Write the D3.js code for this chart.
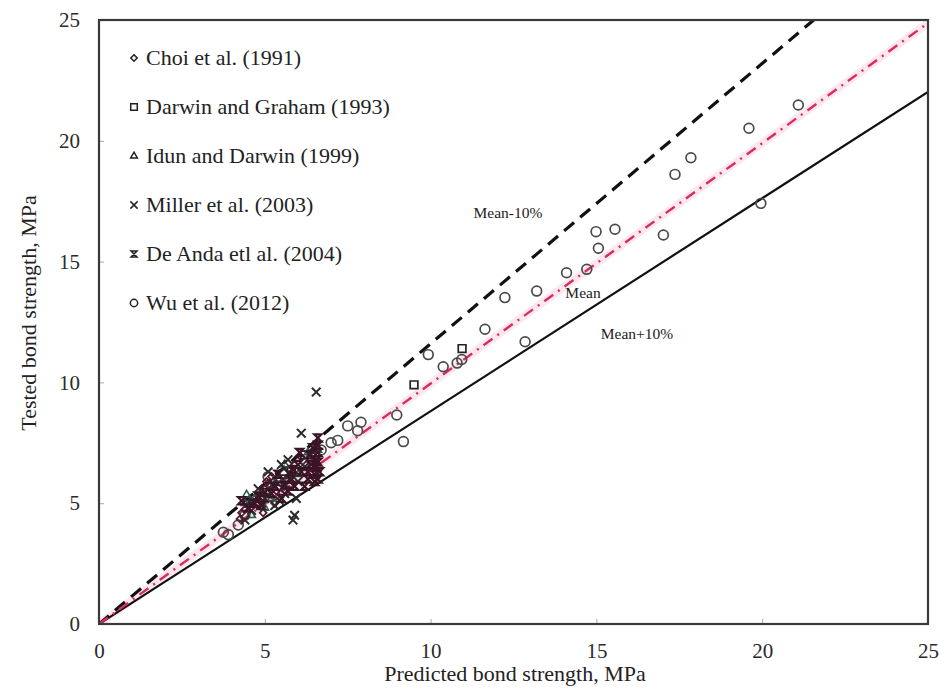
<!DOCTYPE html>
<html><head><meta charset="utf-8">
<script src="https://cdn.jsdelivr.net/npm/d3@7"></script>
<style>body{margin:0;background:#fff}svg{display:block}</style>
</head><body>
<svg id="c" width="941" height="692"></svg>
<script>
// ---- data ----
const xTicks = [0,5,10,15,20,25];
const yTicks = [0,5,10,15,20,25];
const legendLabels = ["Choi et al. (1991)","Darwin and Graham (1993)","Idun and Darwin (1999)","Miller et al. (2003)","De Anda etl al. (2004)","Wu et al. (2012)"];
const lineLabels = ["Mean-10%","Mean","Mean+10%"];
const choi = [[4.5,4.9],[4.8,5.3],[5.0,5.6],[5.2,6.1],[5.5,5.8],[5.7,6.4],[5.9,6.6],[6.1,6.9],[4.3,4.6],[5.3,5.0],[4.6,5.1],[5.05,5.9],[5.35,5.5],[5.8,6.1],[6.25,6.6],[4.95,4.6],[4.25,4.35],[4.4,4.75],[5.15,5.7],[5.65,6.0]];
const darwinGraham = [[9.5,9.9],[10.95,11.4],[5.4,5.9],[5.8,6.3],[6.2,7.0],[4.9,5.2],[5.6,6.0],[6.4,6.9]];
const idunDarwin = [[4.4,5.0],[4.7,5.2],[5.1,5.5],[5.4,6.0],[5.6,6.6],[6.0,6.2],[6.3,7.1],[5.0,4.8],[4.6,4.5],[5.2,5.2],[5.75,5.75],[6.15,6.45],[4.45,5.35],[6.6,7.2]];
const miller = [[6.55,9.6],[6.1,7.9],[5.9,4.5],[5.85,4.3],[5.3,4.9],[5.0,5.2],[4.6,4.7],[4.4,4.3],[5.6,5.4],[6.0,5.9],[5.7,6.8],[5.1,6.3],[5.5,6.6],[4.8,5.6],[6.2,6.5],[5.95,5.2],[5.45,5.1],[4.9,5.0],[5.25,5.8],[5.75,6.2],[4.65,4.95]];
const deAnda = [[6.6,7.7],[6.6,7.4],[6.6,7.1],[6.55,6.8],[6.55,6.5],[6.5,6.2],[6.5,5.9],[6.4,6.6],[6.3,6.0],[6.2,5.7],[6.1,6.3],[5.9,5.7],[5.7,5.5],[5.5,5.2],[5.2,5.4],[4.9,4.9],[4.5,4.8],[4.3,5.1],[6.45,7.3],[6.35,7.0],[6.0,6.6],[5.8,6.0],[5.6,5.75],[5.3,5.7],[5.0,5.45],[4.7,5.0],[6.65,6.3],[6.6,6.0],[6.05,7.1],[5.85,6.4],[5.4,6.2],[4.8,5.3],[6.3,6.3],[6.6,6.7]];
const wu = [[21.09,21.48],[19.6,20.52],[19.96,17.41],[17.85,19.3],[17.37,18.61],[17.02,16.1],[15.56,16.34],[14.99,16.24],[15.06,15.55],[14.71,14.68],[14.1,14.54],[13.2,13.78],[12.24,13.51],[12.85,11.68],[11.64,12.2],[10.94,10.95],[10.8,10.8],[9.93,11.15],[10.38,10.65],[9.18,7.55],[8.98,8.65],[7.9,8.35],[7.8,8.0],[7.5,8.2],[7.2,7.6],[7.0,7.5],[3.75,3.8],[3.9,3.7],[4.2,4.1],[4.4,4.5],[5.1,6.1],[6.5,7.0],[6.7,7.2],[5.3,5.35],[5.6,6.2]];
const slopes = {upper:1.16, mean:0.995, lower:0.881};

// ---- layout ----
const svg = d3.select("#c");
const m = {l:99, t:20, r:928, b:624};
const x = d3.scaleLinear().domain([0,25]).range([m.l,m.r]);
const y = d3.scaleLinear().domain([0,25]).range([m.b,m.t]);
const font = "'Liberation Serif','Times New Roman',serif";

svg.append("defs").append("clipPath").attr("id","clip").append("rect")
  .attr("x",m.l).attr("y",m.t).attr("width",m.r-m.l).attr("height",m.b-m.t);

// axes ticks (inward)
const gx = svg.append("g").attr("transform",`translate(0,${m.b})`)
  .call(d3.axisBottom(x).tickValues(xTicks).tickSize(-5).tickPadding(19));
const gy = svg.append("g").attr("transform",`translate(${m.l},0)`)
  .call(d3.axisLeft(y).tickValues(yTicks).tickSize(-5).tickPadding(19));
[gx,gy].forEach(g=>{
  g.select(".domain").remove();
  g.selectAll(".tick line").attr("stroke","#aaa");
  g.selectAll(".tick text").attr("font-family",font).attr("font-size",21).attr("fill","#2a2a2a");
});

// reference lines
const g = svg.append("g").attr("clip-path","url(#clip)");
const lineData = (s)=>[[0,0],[25,25*s]];
const ln = d3.line().x(d=>x(d[0])).y(d=>y(d[1]));
g.append("path").attr("d",ln(lineData(slopes.mean))).attr("stroke","#fbd3e0").attr("stroke-width",8).attr("fill","none").attr("opacity",0.55);
g.append("path").attr("d",ln(lineData(slopes.lower))).attr("stroke","#111").attr("stroke-width",2.2).attr("fill","none");
g.append("path").attr("d",ln(lineData(slopes.upper))).attr("stroke","#111").attr("stroke-width",3.2).attr("stroke-dasharray","13,8").attr("fill","none");
g.append("path").attr("d",ln(lineData(slopes.mean))).attr("stroke","#d92a63").attr("stroke-width",2.4).attr("stroke-dasharray","11,6,2,6").attr("fill","none");

// symbols
const sym = {
  diamond: d3.symbol().type(d3.symbolDiamond2).size(30),
  square: d3.symbol().type(d3.symbolSquare2).size(75),
  triangle: d3.symbol().type(d3.symbolTriangle2).size(42),
  cross: d3.symbol().type(d3.symbolX).size(50),
  circle: d3.symbol().type(d3.symbolCircle).size(75)
};
const hourglass = (r)=>`M${-r},${-r}L${r},${-r}L${-r},${r}L${r},${r}Z`;

function drawSeries(data, pathFn, stroke, sw){
  g.append("g").selectAll("path").data(data).join("path")
    .attr("transform",d=>`translate(${x(d[0])},${y(d[1])})`)
    .attr("d",pathFn).attr("fill","none").attr("stroke",stroke).attr("stroke-width",sw);
}
drawSeries(wu, sym.circle, "#4a4a4a", 1.7);
drawSeries(choi, sym.diamond, "#5a1432", 1.8);
drawSeries(darwinGraham, sym.square, "#222", 1.7);
drawSeries(idunDarwin, sym.triangle, "#2c5c50", 1.6);
drawSeries(miller, sym.cross, "#2a2a2a", 2);
drawSeries(deAnda, ()=>hourglass(3.6), "#3a1424", 2.2);

// frame
svg.append("rect").attr("x",m.l).attr("y",m.t).attr("width",m.r-m.l).attr("height",m.b-m.t)
  .attr("fill","none").attr("stroke","#3a3a3a").attr("stroke-width",2.2);

// legend
const legendSyms = [d3.symbol().type(d3.symbolDiamond2).size(26), d3.symbol().type(d3.symbolSquare2).size(55), d3.symbol().type(d3.symbolTriangle2).size(32), d3.symbol().type(d3.symbolX).size(36), ()=>hourglass(3), d3.symbol().type(d3.symbolCircle).size(42)];
const lg = svg.append("g");
legendLabels.forEach((t,i)=>{
  const yy = 57 + i*49;
  lg.append("path").attr("transform",`translate(134,${yy+1})`).attr("d",legendSyms[i]())
    .attr("fill","none").attr("stroke","#222").attr("stroke-width",1.5);
  lg.append("text").attr("x",146).attr("y",yy).attr("dy","0.35em")
    .attr("font-family",font).attr("font-size",22).attr("fill","#222").text(t);
});

// line labels
const labPos = [[508,213],[583,293],[637,334]];
lineLabels.forEach((t,i)=>{
  svg.append("text").attr("x",labPos[i][0]).attr("y",labPos[i][1]).attr("dy","0.35em").attr("text-anchor","middle")
    .attr("font-family",font).attr("font-size",15.5).attr("fill","#222").text(t);
});

// axis titles
svg.append("text").attr("x",515).attr("y",673).attr("dy","0.35em").attr("text-anchor","middle")
  .attr("font-family",font).attr("font-size",22).attr("fill","#222").text("Predicted bond strength, MPa");
svg.append("text").attr("transform","translate(28,313) rotate(-90)").attr("dy","0.35em").attr("text-anchor","middle")
  .attr("font-family",font).attr("font-size",22).attr("fill","#222").text("Tested bond strength, MPa");
</script>
</body></html>
